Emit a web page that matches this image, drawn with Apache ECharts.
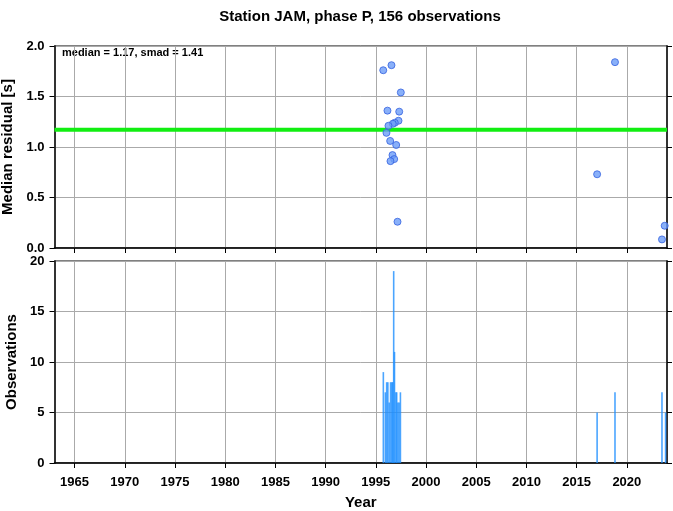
<!DOCTYPE html>
<html>
<head>
<meta charset="utf-8">
<script src="https://cdn.jsdelivr.net/npm/echarts@6/dist/echarts.min.js"></script>
<style>
html,body{margin:0;padding:0;background:#fff;}
#c{width:673px;height:511px;}
</style>
</head>
<body>
<div id="c"></div>
<script>
// ---- data ----
var titleText = 'Station JAM, phase P, 156 observations';
var median = 1.17;
var smad = 1.41;
var yearTicks = [1965, 1970, 1975, 1980, 1985, 1990, 1995, 2000, 2005, 2010, 2015, 2020];
var residTicks = [0, 0.5, 1.0, 1.5, 2.0];
var obsTicks = [0, 5, 10, 15, 20];

var residYears = [1995.74, 1996.56, 1997.49, 1996.16, 1997.33, 1997.26, 1996.89, 1996.69, 1996.26, 1996.06,
                  1996.43, 1997.03, 1996.66, 1996.83, 1996.46, 1997.16, 2017.04, 2018.82, 2023.77, 2023.50];
var residValues = [1.76, 1.81, 1.54, 1.36, 1.35, 1.26, 1.24, 1.23, 1.21, 1.14,
                   1.06, 1.02, 0.92, 0.88, 0.86, 0.26, 0.73, 1.84, 0.22, 0.085];

var obsYears = [1995.75, 1995.95, 1996.08, 1996.20, 1996.33, 1996.47, 1996.60, 1996.67, 1996.78, 1996.86,
                1997.00, 1997.08, 1997.20, 1997.32, 1997.45, 2017.04, 2018.82, 2023.50, 2023.86];
var obsCounts = [9, 7, 8, 8, 6, 8, 8, 8, 19, 11,
                 7, 7, 6, 6, 7, 5, 7, 7, 5];

// ---- chart ----
var FONT = "'Liberation Sans', Arial, Helvetica, sans-serif";
var scatterData = residYears.map(function (y, i) { return [y, residValues[i]]; });
var barData = obsYears.map(function (y, i) { return [y, obsCounts[i]]; });

function xAxisDef(gridIndex, showLabels) {
  return {
    type: 'value', gridIndex: gridIndex, min: 1963, max: 2024,
    axisLine: { show: true, onZero: false, lineStyle: { color: '#000', width: 1.5 } },
    axisTick: { show: true, length: 5, customValues: yearTicks, lineStyle: { color: '#000', width: 1 } },
    axisLabel: { show: showLabels, customValues: yearTicks, fontFamily: FONT, fontWeight: 'bold',
                 fontSize: 13, color: '#000', margin: 13,
                 formatter: function (v) { return String(v); } },
    splitLine: { show: true, lineStyle: { color: '#aaa', width: 1 } },
    name: showLabels ? 'Year' : '', nameLocation: 'middle', nameGap: 32,
    nameTextStyle: { fontFamily: FONT, fontWeight: 'bold', fontSize: 15, color: '#000' }
  };
}
function yAxisDef(gridIndex, ticks, dec, name, pos) {
  var left = pos === 'left';
  return {
    type: 'value', gridIndex: gridIndex, position: pos,
    min: ticks[0], max: ticks[ticks.length - 1], interval: ticks[1] - ticks[0],
    axisLine: { show: true, lineStyle: { color: '#333', width: 2 } },
    axisTick: { show: true, length: 5, lineStyle: { color: '#000', width: 1 } },
    axisLabel: { show: left, fontFamily: FONT, fontWeight: 'bold', fontSize: 13, color: '#000', margin: 10,
                 formatter: function (v) { return v.toFixed(dec); } },
    splitLine: { show: left, lineStyle: { color: '#aaa', width: 1 } },
    name: left ? name : '', nameLocation: 'middle', nameGap: 33,
    nameTextStyle: { fontFamily: FONT, fontWeight: 'bold', fontSize: 15, color: '#000' }
  };
}

var chart = echarts.init(document.getElementById('c'), null, { renderer: 'canvas' });
chart.setOption({
  animation: false,
  backgroundColor: '#fff',
  title: {
    text: titleText, left: 355, top: 4, textAlign: 'center',
    textStyle: { fontFamily: FONT, fontWeight: 'bold', fontSize: 15, color: '#000' }
  },
  graphic: [{
    type: 'text', left: 62, top: 47,
    style: { text: 'median = ' + median.toFixed(2) + ', smad = ' + smad.toFixed(2),
             font: 'bold 11px ' + FONT, fill: '#000' }
  }],
  grid: [
    { left: 54.5, right: 6, top: 46, height: 202, show: true, borderColor: '#000', borderWidth: 1,
      backgroundColor: 'transparent', outerBoundsMode: 'none', containLabel: false },
    { left: 54.5, right: 6, top: 261, height: 202, show: true, borderColor: '#000', borderWidth: 1,
      backgroundColor: 'transparent', outerBoundsMode: 'none', containLabel: false }
  ],
  xAxis: [xAxisDef(0, false), xAxisDef(1, true)],
  yAxis: [
    yAxisDef(0, residTicks, 1, 'Median residual [s]', 'left'),
    yAxisDef(1, obsTicks, 0, 'Observations', 'left'),
    yAxisDef(0, residTicks, 1, '', 'right'),
    yAxisDef(1, obsTicks, 0, '', 'right')
  ],
  series: [
    {
      type: 'line', xAxisIndex: 0, yAxisIndex: 0, data: [[1963, median], [2024, median]],
      symbol: 'none', lineStyle: { color: '#11ee11', width: 4 }, z: 3, silent: true
    },
    {
      type: 'scatter', xAxisIndex: 0, yAxisIndex: 0, data: scatterData,
      symbol: 'circle', symbolSize: 7, z: 4,
      itemStyle: { color: '#6b9cf7', borderColor: '#3562e0', borderWidth: 1 }
    },
    {
      type: 'bar', xAxisIndex: 1, yAxisIndex: 1, data: barData, barWidth: 1.6, barGap: '-100%',
      itemStyle: { color: '#1e8fff', opacity: 0.8 }, z: 3
    }
  ]
});
</script>
</body>
</html>
